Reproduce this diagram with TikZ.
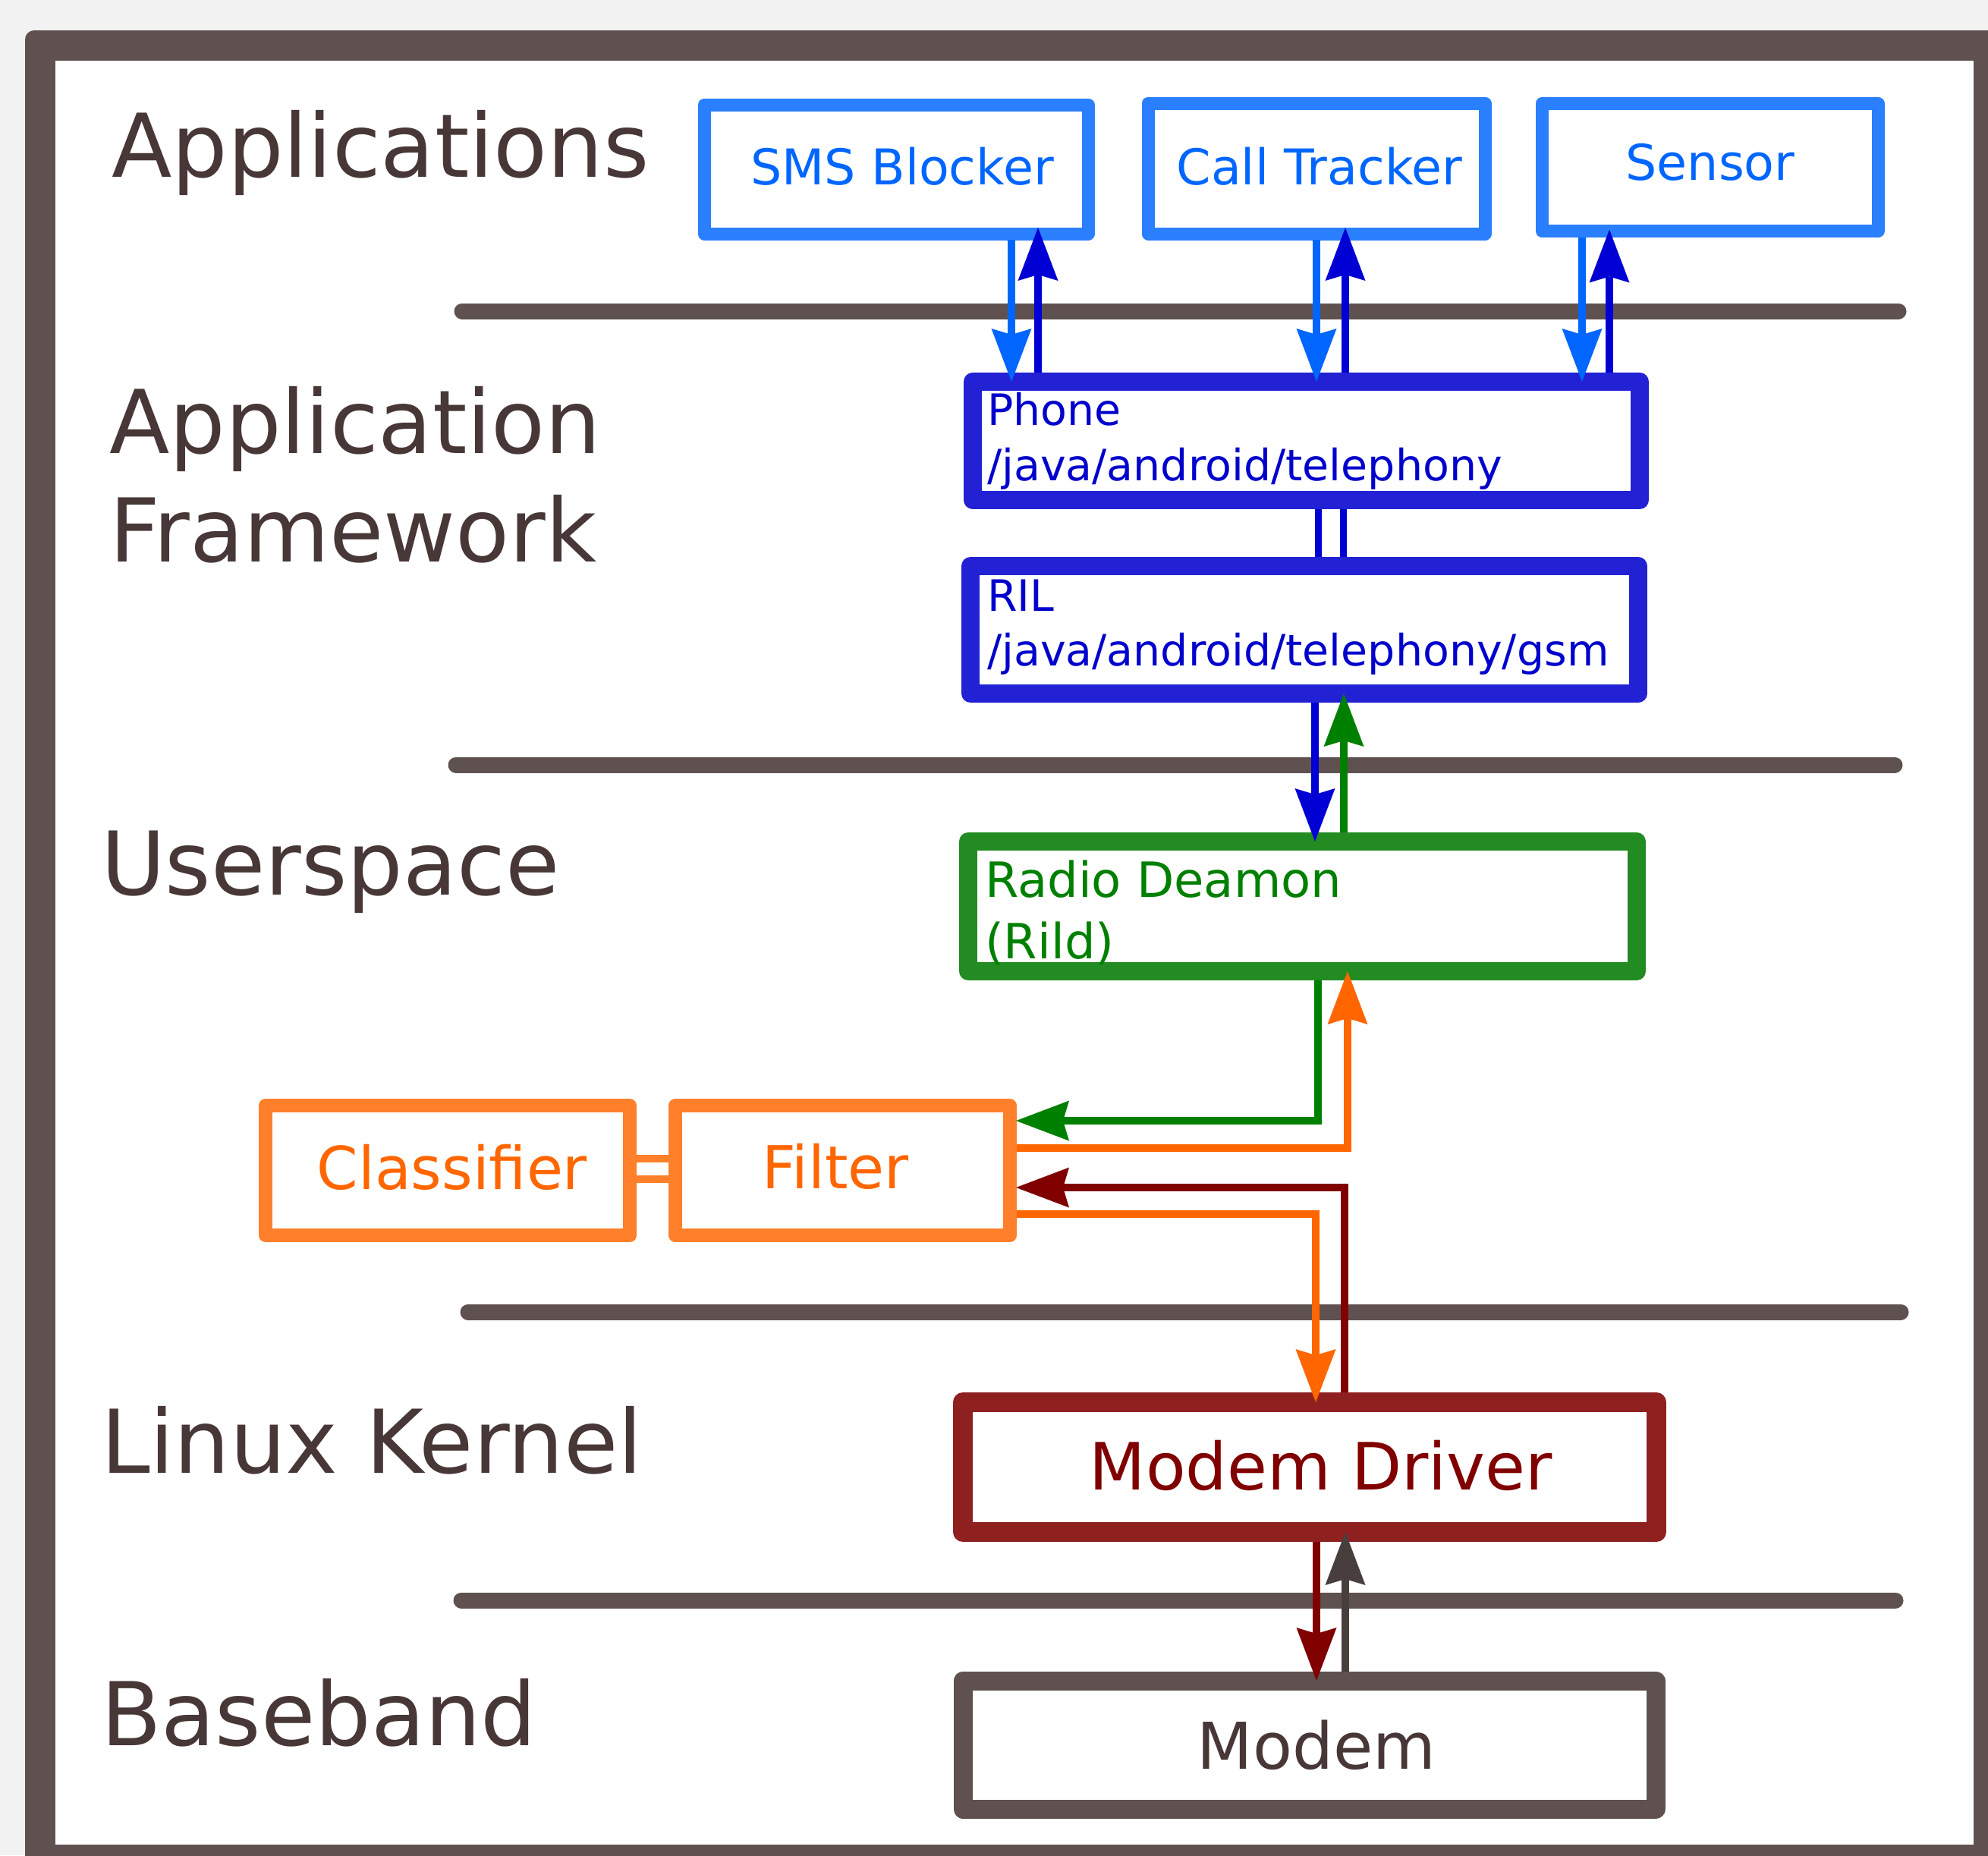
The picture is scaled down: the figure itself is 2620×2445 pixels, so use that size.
\documentclass[tikz,border=0pt]{standalone}
\usepackage{fontspec}
\setmainfont{DejaVu Sans}
\usetikzlibrary{arrows.meta}
\definecolor{bgc}{HTML}{F2F2F2}
\definecolor{framec}{HTML}{5E5150}
\definecolor{labelc}{HTML}{483737}
\definecolor{appb}{HTML}{2A7FFF}
\definecolor{appt}{HTML}{0066FF}
\definecolor{fwb}{HTML}{2222D4}
\definecolor{fwt}{HTML}{0000CC}
\definecolor{dblue}{HTML}{0000D4}
\definecolor{grb}{HTML}{228B22}
\definecolor{grt}{HTML}{008000}
\definecolor{orb}{HTML}{FF7F2A}
\definecolor{ort}{HTML}{FF6600}
\definecolor{rdb}{HTML}{8F2020}
\definecolor{rdt}{HTML}{800000}
\definecolor{moda}{HTML}{483E3E}
\tikzset{
  boxst/.style={draw, rectangle, fill=white, inner sep=0pt, outer sep=0pt, line join=round},
  txt/.style={inner sep=0pt, outer sep=0pt},
  arr/.style={line width=10pt, -{Stealth[length=70pt,width=53pt,inset=8pt,line width=0pt]}},
  lbl/.style={txt, anchor=base west, text=labelc, font=\fontsize{116}{139}\selectfont},
  sep/.style={framec, line width=21pt, line cap=round},
  apptxt/.style={txt, anchor=base, text=appt, font=\fontsize{65}{78}\selectfont},
  fwtxt/.style={txt, anchor=base west, text=fwt, font=\fontsize{57}{68}\selectfont},
  rdtxt/.style={txt, anchor=base west, text=grt, font=\fontsize{64}{77}\selectfont},
  filtxt/.style={txt, anchor=base, text=ort, font=\fontsize{78}{94}\selectfont},
}
\begin{document}
\begin{tikzpicture}[x=1pt,y=-1pt]
\useasboundingbox (0,0) rectangle (2620,2445);
\begin{scope}
  \clip (0,0) rectangle (2620,2445);
  \fill[bgc] (0,0) rectangle (2620,2445);
  \fill[framec, rounded corners=12pt] (33,40) rectangle (2700,2520);
  \fill[white] (73,80) rectangle (2601,2431);
\end{scope}

% layer separators
\draw[sep] (609,410) -- (2502,410);
\draw[sep] (601,1008) -- (2497,1008);
\draw[sep] (617,1729) -- (2505,1729);
\draw[sep] (608,2109) -- (2498,2109);

% layer labels
\node[lbl] (tApps) at (147,233) {Applications};
\node[lbl] (tAF1) at (144,597) {Application};
\node[lbl] (tAF2) at (144,740) {Framework};
\node[lbl] (tUser) at (133,1179) {Userspace};
\node[lbl] (tKern) at (133,1941) {Linux Kernel};
\node[lbl] (tBase) at (133,2300) {Baseband};

% boxes
\node[boxst, draw=appb, line width=17pt, minimum width=506pt, minimum height=170pt] (sms) at (1181,223) {};
\node[boxst, draw=appb, line width=17pt, minimum width=444pt, minimum height=172pt] (call) at (1735,222) {};
\node[boxst, draw=appb, line width=17pt, minimum width=443pt, minimum height=168pt] (sensor) at (2253.5,220.5) {};
\node[boxst, draw=fwb, line width=24pt, minimum width=879pt, minimum height=156pt] (phone) at (1721.5,581) {};
\node[boxst, draw=fwb, line width=24pt, minimum width=880pt, minimum height=168pt] (ril) at (1719,830) {};
\node[boxst, draw=grb, line width=24pt, minimum width=881pt, minimum height=171pt] (radio) at (1716.5,1194.5) {};
\node[boxst, draw=orb, line width=18pt, minimum width=480pt, minimum height=171pt] (classifier) at (590,1542.5) {};
\node[boxst, draw=orb, line width=18pt, minimum width=441pt, minimum height=171pt] (filter) at (1110.5,1542.5) {};
\node[boxst, draw=rdb, line width=26pt, minimum width=914pt, minimum height=171pt] (mdrv) at (1726,1933.5) {};
\node[boxst, draw=framec, line width=25pt, minimum width=913pt, minimum height=169pt] (modem) at (1725.5,2299.5) {};

% box texts
\node[apptxt] (tSms) at (1189,243) {SMS Blocker};
\node[apptxt] (tCall) at (1739,243) {Call Tracker};
\node[apptxt] (tSensor) at (2254,237) {Sensor};
\node[fwtxt] (tPhone1) at (1301,560) {Phone};
\node[fwtxt] (tPhone2) at (1301,633) {/java/android/telephony};
\node[fwtxt] (tRil1) at (1301,805) {RIL};
\node[fwtxt] (tRil2) at (1301,877) {/java/android/telephony/gsm};
\node[rdtxt] (tRadio1) at (1298,1182) {Radio Deamon};
\node[rdtxt] (tRadio2) at (1298,1263) {(Rild)};
\node[filtxt] (tClass) at (596,1567) {Classifier};
\node[filtxt] (tFilter) at (1101,1566) {Filter};
\node[txt, anchor=base, text=rdt, font=\fontsize{86}{103}\selectfont] (tMdrv) at (1741,1963) {Modem Driver};
\node[txt, anchor=base, text=labelc, font=\fontsize{85}{102}\selectfont] (tModem) at (1735,2331) {Modem};

% application <-> phone
\draw[arr, appt, shorten <=8pt] (sms.south -| 1333,0) -- (phone.north -| 1333,0);
\draw[arr, dblue, shorten <=12pt, shorten >=-8pt] (phone.north -| 1368,0) -- (sms.south -| 1368,0);
\draw[arr, appt, shorten <=8pt] (call.south -| 1735,0) -- (phone.north -| 1735,0);
\draw[arr, dblue, shorten <=12pt, shorten >=-8pt] (phone.north -| 1773,0) -- (call.south -| 1773,0);
\draw[arr, appt, shorten <=8pt] (sensor.south -| 2085,0) -- (phone.north -| 2085,0);
\draw[arr, dblue, shorten <=12pt, shorten >=-2pt] (phone.north -| 2121,0) -- (sensor.south -| 2121,0);

% phone = ril
\draw[dblue, line width=9pt, shorten <=12pt, shorten >=12pt] (phone.south -| 1737,0) -- (ril.north -| 1737,0);
\draw[dblue, line width=9pt, shorten <=12pt, shorten >=12pt] (phone.south -| 1770,0) -- (ril.north -| 1770,0);

% ril <-> radio
\draw[arr, dblue, shorten <=12pt] (ril.south -| 1733,0) -- (radio.north -| 1733,0);
\draw[arr, grt, shorten <=12pt] (radio.north -| 1771,0) -- (ril.south -| 1771,0);

% radio <-> filter
\draw[arr, grt, shorten <=12pt, shorten >=8pt] (radio.south -| 1737,0) |- (filter.east |- 0,1477);
\draw[arr, ort, shorten <=9pt] (filter.east |- 0,1513) -| (radio.south -| 1776,0);

% filter <-> modem driver
\draw[arr, rdt, shorten <=13pt, shorten >=8pt] (mdrv.north -| 1772,0) |- (filter.east |- 0,1565);
\draw[arr, ort, shorten <=9pt] (filter.east |- 0,1600) -| (mdrv.north -| 1734,0);

% classifier = filter
\draw[orb, line width=10pt, shorten <=9pt, shorten >=9pt] (classifier.east |- 0,1527) -- (filter.west |- 0,1527);
\draw[orb, line width=10pt, shorten <=9pt, shorten >=9pt] (classifier.east |- 0,1554) -- (filter.west |- 0,1554);

% modem driver <-> modem
\draw[arr, rdt, shorten <=13pt] (mdrv.south -| 1735,0) -- (modem.north -| 1735,0);
\draw[arr, moda, shorten <=12pt] (modem.north -| 1773,0) -- (mdrv.south -| 1773,0);
\end{tikzpicture}
\end{document}
